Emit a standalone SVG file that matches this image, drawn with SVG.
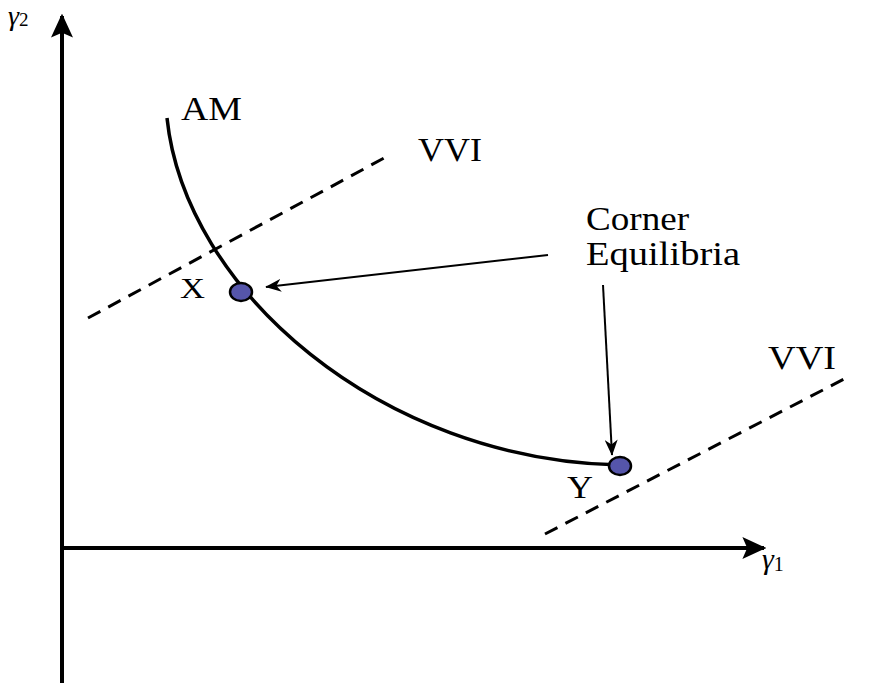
<svg xmlns="http://www.w3.org/2000/svg" width="893" height="683" viewBox="0 0 893 683">
<style>
.t{font-family:"Liberation Serif","Times New Roman",serif;fill:#000}
.ax{stroke:#000;stroke-width:4;fill:none}
.dash{stroke:#000;stroke-width:3;stroke-dasharray:14,9;fill:none}
.pt{fill:#5555aa;stroke:#000;stroke-width:2.5}
</style>
<defs>
<marker id="ah" markerWidth="16" markerHeight="13" refX="9.5" refY="5" orient="auto" markerUnits="userSpaceOnUse" viewBox="0 0 10 10" preserveAspectRatio="none">
<path d="M0,0 L10,5 L0,10 L3,5 Z" fill="#000"/>
</marker>
<marker id="axh" viewBox="0 0 10 10" refX="9" refY="5" markerWidth="24" markerHeight="22" orient="auto" markerUnits="userSpaceOnUse" preserveAspectRatio="none">
<path d="M0,0 L10,5 L0,10 L2,5 Z" fill="#000"/>
</marker>
</defs>
<g id="axes">
<line class="ax" x1="62" y1="683" x2="62" y2="16" marker-end="url(#axh)"/>
<line class="ax" x1="60" y1="548" x2="764" y2="548" marker-end="url(#axh)"/>
<text class="t" x="8" y="25" font-size="28" font-style="italic">γ<tspan font-size="19" font-style="normal" dy="1">2</tspan></text>
<text class="t" x="762" y="569" font-size="30" font-style="italic">γ<tspan font-size="20" font-style="normal" dy="2">1</tspan></text>
</g>
<g id="vvi1">
<line class="dash" x1="88" y1="318" x2="386" y2="157"/>
<text class="t" x="418" y="161" font-size="34" textLength="64" lengthAdjust="spacingAndGlyphs">VVI</text>
</g>
<g id="vvi2">
<line class="dash" x1="545" y1="534" x2="846" y2="378"/>
<text class="t" x="768" y="369" font-size="34" textLength="68" lengthAdjust="spacingAndGlyphs">VVI</text>
</g>
<g id="am">
<path d="M167,118 C185,290 380,460 620,465" stroke="#000" stroke-width="3.5" fill="none"/>
<text class="t" x="181" y="120" font-size="33" textLength="61" lengthAdjust="spacingAndGlyphs">AM</text>
</g>
<g id="connectors">
<line x1="548" y1="255" x2="266" y2="287" stroke="#000" stroke-width="2" marker-end="url(#ah)"/>
<line x1="603" y1="285" x2="612" y2="455" stroke="#000" stroke-width="2" marker-end="url(#ah)"/>
</g>
<g id="pointX">
<ellipse class="pt" cx="241" cy="292" rx="11" ry="9"/>
<text class="t" x="180" y="298" font-size="30" textLength="25" lengthAdjust="spacingAndGlyphs">X</text>
</g>
<g id="pointY">
<ellipse class="pt" cx="620" cy="466" rx="11" ry="9"/>
<text class="t" x="567" y="498" font-size="32" textLength="26" lengthAdjust="spacingAndGlyphs">Y</text>
</g>
<g id="label">
<text class="t" x="586" y="230" font-size="34" textLength="103" lengthAdjust="spacingAndGlyphs">Corner</text>
<text class="t" x="586" y="265" font-size="34" textLength="154" lengthAdjust="spacingAndGlyphs">Equilibria</text>
</g>
</svg>
